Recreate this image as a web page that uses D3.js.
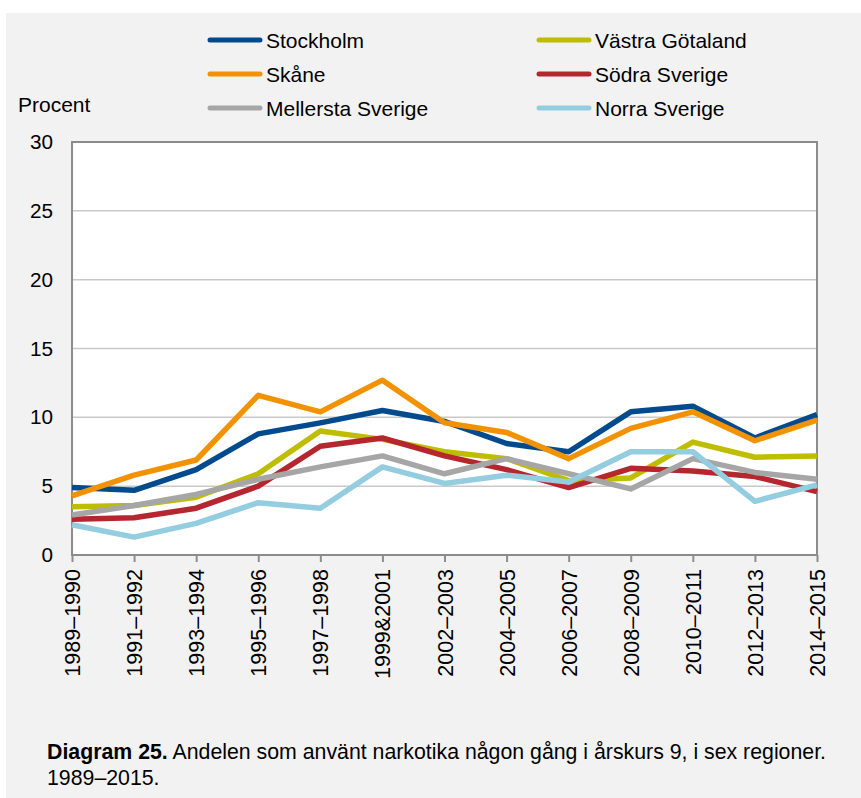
<!DOCTYPE html>
<html>
<head>
<meta charset="utf-8">
<script src="https://cdn.jsdelivr.net/npm/d3@7"></script>
<style>
  body { margin: 0; background: #fff; }
  text { font-family: "Liberation Sans", Arial, sans-serif; fill: #000; }
</style>
</head>
<body>
<div id="chart"></div>
<script>
var categories = ["1989–1990", "1991–1992", "1993–1994", "1995–1996", "1997–1998", "1999&2001",
  "2002–2003", "2004–2005", "2006–2007", "2008–2009", "2010–2011", "2012–2013", "2014–2015"];

var stockholm = [4.9, 4.7, 6.2, 8.8, 9.6, 10.5, 9.7, 8.1, 7.5, 10.4, 10.8, 8.5, 10.2];
var skane     = [4.3, 5.8, 6.9, 11.6, 10.4, 12.7, 9.6, 8.9, 7.0, 9.2, 10.4, 8.3, 9.8];
var vastra    = [3.5, 3.6, 4.2, 5.9, 9.0, 8.4, 7.5, 7.0, 5.4, 5.6, 8.2, 7.1, 7.2];
var sodra     = [2.6, 2.7, 3.4, 5.0, 7.9, 8.5, 7.2, 6.2, 4.9, 6.3, 6.1, 5.7, 4.6];
var mellersta = [2.9, 3.6, 4.4, 5.5, 6.4, 7.2, 5.9, 7.0, 5.9, 4.8, 7.0, 6.0, 5.5];
var norra     = [2.2, 1.3, 2.3, 3.8, 3.4, 6.4, 5.2, 5.8, 5.3, 7.5, 7.5, 3.9, 5.1];

var yTicks = [0, 5, 10, 15, 20, 25, 30];

// legend order (row-wise, two columns) = drawing order
var series = [
  {name: "Stockholm", values: stockholm, color: "#004a8d"},
  {name: "Västra Götaland", values: vastra, color: "#bfbd00"},
  {name: "Skåne", values: skane, color: "#f39200"},
  {name: "Södra Sverige", values: sodra, color: "#b5262f"},
  {name: "Mellersta Sverige", values: mellersta, color: "#a6a6a6"},
  {name: "Norra Sverige", values: norra, color: "#93cddf"}
];

var width = 861, height = 798;
var plotLeft = 72, plotRight = 817, plotTop = 142, plotBottom = 555;

var svg = d3.select("#chart").append("svg")
  .attr("width", width)
  .attr("height", height);

svg.append("rect")
  .attr("x", 6).attr("y", 13)
  .attr("width", width - 6).attr("height", height - 13)
  .attr("fill", "#f2f2f2");

var x = d3.scalePoint().domain(categories).range([plotLeft, plotRight]);
var y = d3.scaleLinear().domain([0, 30]).range([plotBottom, plotTop]);

// plot area
svg.append("rect")
  .attr("x", plotLeft).attr("y", plotTop)
  .attr("width", plotRight - plotLeft).attr("height", plotBottom - plotTop)
  .attr("fill", "#fff");

// gridlines
svg.append("g")
  .selectAll("line")
  .data(yTicks.filter(function(d) { return d > 0 && d < 30; }))
  .enter().append("line")
  .attr("x1", plotLeft).attr("x2", plotRight)
  .attr("y1", function(d) { return y(d); })
  .attr("y2", function(d) { return y(d); })
  .attr("stroke", "#c9c9c9")
  .attr("stroke-width", 1.5);

// frame
svg.append("rect")
  .attr("x", plotLeft).attr("y", plotTop)
  .attr("width", plotRight - plotLeft).attr("height", plotBottom - plotTop)
  .attr("fill", "none")
  .attr("stroke", "#8c8c8c")
  .attr("stroke-width", 2);

// y axis labels
var yAxis = d3.axisLeft(y).tickValues(yTicks).tickSize(0).tickPadding(19);
svg.append("g")
  .attr("transform", "translate(" + plotLeft + ",0)")
  .call(yAxis)
  .call(function(g) { g.select(".domain").remove(); })
  .selectAll("text")
  .style("font-size", "20.7px")
  .attr("fill", "#000");

svg.append("text")
  .attr("x", 18).attr("y", 112)
  .style("font-size", "21px")
  .text("Procent");

// x axis
var xAxis = d3.axisBottom(x).tickSize(7).tickPadding(0);
var xg = svg.append("g")
  .attr("transform", "translate(0," + plotBottom + ")")
  .call(xAxis);
xg.select(".domain").remove();
xg.selectAll(".tick line").attr("stroke", "#8c8c8c").attr("stroke-width", 2);
xg.selectAll("text")
  .attr("fill", "#000")
  .style("font-size", "21.5px")
  .attr("text-anchor", "end")
  .attr("transform", "rotate(-90)")
  .attr("x", -14)
  .attr("y", 0)
  .attr("dy", "0.35em");

// lines
var line = d3.line()
  .x(function(d, i) { return x(categories[i]); })
  .y(function(d) { return y(d); });

svg.append("g")
  .selectAll("path")
  .data(series)
  .enter().append("path")
  .attr("d", function(d) { return line(d.values); })
  .attr("fill", "none")
  .attr("stroke", function(d) { return d.color; })
  .attr("stroke-width", 5.5)
  .attr("stroke-linejoin", "round");

// legend
var legend = svg.append("g")
  .selectAll("g")
  .data(series)
  .enter().append("g")
  .attr("transform", function(d, i) {
    return "translate(" + (i % 2 === 0 ? 208 : 537) + "," + (40 + Math.floor(i / 2) * 34) + ")";
  });

legend.append("line")
  .attr("x1", 2).attr("x2", 52)
  .attr("y1", 0).attr("y2", 0)
  .attr("stroke", function(d) { return d.color; })
  .attr("stroke-width", 5)
  .attr("stroke-linecap", "round");

legend.append("text")
  .attr("x", 58).attr("y", 7.5)
  .style("font-size", "21px")
  .text(function(d) { return d.name; });

// caption
var cap = svg.append("text")
  .attr("x", 47).attr("y", 759)
  .style("font-size", "21.3px");
cap.append("tspan").style("font-weight", "bold").text("Diagram 25.");
cap.append("tspan").text(" Andelen som använt narkotika någon gång i årskurs 9, i sex regioner.");

svg.append("text")
  .attr("x", 47).attr("y", 785)
  .style("font-size", "21.3px")
  .text("1989–2015.");
</script>
</body>
</html>
